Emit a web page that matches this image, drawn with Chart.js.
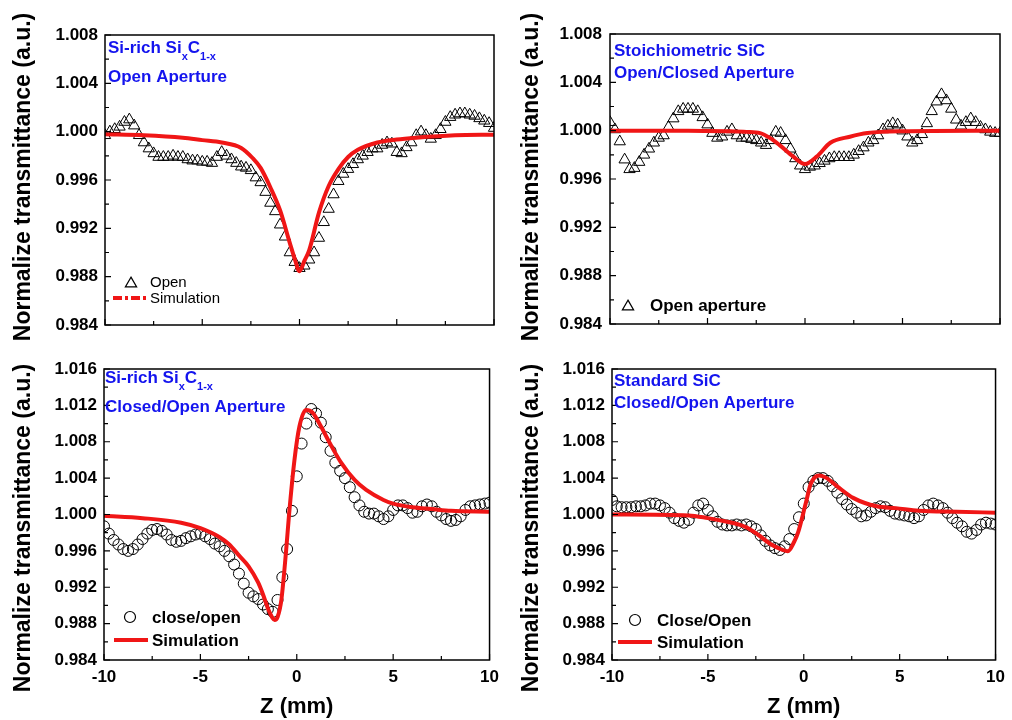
<!DOCTYPE html>
<html>
<head>
<meta charset="utf-8">
<title>Z-scan normalized transmittance</title>
<script src="https://cdn.jsdelivr.net/npm/chart.js@4.4.1/dist/chart.umd.min.js"></script>
<style>
  body { margin: 0; background: #fff; width: 1012px; height: 720px; overflow: hidden; }
  canvas { position: absolute; }
</style>
</head>
<body>
<canvas id="c1" style="left:0;top:0" width="506" height="350"></canvas>
<canvas id="c2" style="left:506px;top:0" width="506" height="350"></canvas>
<canvas id="c3" style="left:0;top:335px" width="506" height="385"></canvas>
<canvas id="c4" style="left:506px;top:335px" width="506" height="385"></canvas>
<script>
// axis ticks
const zTicks = [-10, -5, 0, 5, 10];
const yTicksTop = [0.984, 0.988, 0.992, 0.996, 1.000, 1.004, 1.008];
const yTicksBottom = [0.984, 0.988, 0.992, 0.996, 1.000, 1.004, 1.008, 1.012, 1.016];

// measured sample positions (mm)
const zGrid = [-10, -9.75, -9.5, -9.25, -9, -8.75, -8.5, -8.25, -8, -7.75, -7.5, -7.25, -7, -6.75, -6.5, -6.25,
  -6, -5.75, -5.5, -5.25, -5, -4.75, -4.5, -4.25, -4, -3.75, -3.5, -3.25, -3, -2.75, -2.5, -2.25,
  -2, -1.75, -1.5, -1.25, -1, -0.75, -0.5, -0.25, 0, 0.25, 0.5, 0.75, 1, 1.25, 1.5, 1.75,
  2, 2.25, 2.5, 2.75, 3, 3.25, 3.5, 3.75, 4, 4.25, 4.5, 4.75, 5, 5.25, 5.5, 5.75,
  6, 6.25, 6.5, 6.75, 7, 7.25, 7.5, 7.75, 8, 8.25, 8.5, 8.75, 9, 9.25, 9.5, 9.75, 10];

// Si-rich SixC1-x, open aperture
const openSiRich = [0.9997, 1.0000, 1.0002, 1.0004, 1.0008, 1.0010, 1.0005, 0.9997, 0.9991, 0.9986, 0.9982, 0.9979, 0.9979, 0.9979, 0.9980, 0.9979,
  0.9979, 0.9977, 0.9976, 0.9976, 0.9975, 0.9975, 0.9974, 0.9979, 0.9983, 0.9980, 0.9977, 0.9974, 0.9971, 0.9970, 0.9968, 0.9962,
  0.9958, 0.9950, 0.9941, 0.9934, 0.9923, 0.9913, 0.9900, 0.9892, 0.9887, 0.9889, 0.9894, 0.9900, 0.9912, 0.9925, 0.9936, 0.9948,
  0.9959, 0.9965, 0.9969, 0.9973, 0.9977, 0.9980, 0.9983, 0.9986, 0.9986, 0.9989, 0.9991, 0.9990, 0.9983, 0.9982, 0.9987, 0.9991,
  0.9997, 1.0000, 0.9997, 0.9994, 0.9997, 1.0002, 1.0008, 1.0012, 1.0014, 1.0015, 1.0015, 1.0014, 1.0013, 1.0011, 1.0009, 1.0007, 1.0003];
const simOpenSiRichZ = [-10, -8, -6, -5, -4, -3, -2.4, -2, -1.5, -1, -0.5, -0.25, 0, 0.25, 0.5, 1, 1.5, 2, 2.5, 3, 4, 5, 6, 8, 10];
const simOpenSiRich = [0.99978, 0.9997, 0.9995, 0.9993, 0.9991, 0.99865, 0.9978, 0.9970, 0.9954, 0.9935, 0.9908, 0.9895, 0.98845,
  0.9893, 0.9902, 0.9933, 0.9955, 0.9969, 0.9979, 0.9985, 0.9991, 0.99935, 0.9995, 0.9997, 0.99975];

// Stoichiometric SiC, open aperture
const openStoich = [1.0007, 1.0001, 0.9991, 0.9976, 0.9968, 0.9969, 0.9974, 0.9980, 0.9985, 0.9990, 0.9994, 0.9996, 1.0003, 1.0010, 1.0016, 1.0018,
  1.0018, 1.0018, 1.0016, 1.0011, 1.0005, 0.9998, 0.9994, 0.9995, 0.9999, 1.0001, 0.9996, 0.9994, 0.9994, 0.9993, 0.9992, 0.9990,
  0.9988, 0.9992, 0.9999, 0.9998, 0.9992, 0.9985, 0.9977, 0.9971, 0.9968, 0.9970, 0.9971, 0.9973, 0.9975, 0.9977, 0.9978, 0.9978,
  0.9978, 0.9978, 0.9980, 0.9983, 0.9986, 0.9990, 0.9992, 0.9996, 1.0001, 1.0004, 1.0006, 1.0005, 1.0000, 0.9995, 0.9990, 0.9992,
  0.9997, 1.0006, 1.0016, 1.0024, 1.0030, 1.0025, 1.0018, 1.0009, 1.0004, 1.0007, 1.0010, 1.0007, 1.0003, 1.0001, 0.9999, 0.9998, 0.9998];
const simOpenStoichZ = [-10, -6, -4, -3, -2.3, -1.8, -1.3, -0.6, 0, 0.6, 1.3, 2.3, 3.2, 5, 10];
const simOpenStoich = [1.0000, 1.0000, 0.99995, 0.9999, 0.9998, 0.9994, 0.9988, 0.99785, 0.99724, 0.99785, 0.9990, 0.9995, 0.9998, 0.99995, 1.0000];

// Si-rich SixC1-x, closed/open aperture
const closeSiRich = [0.9987, 0.9979, 0.9972, 0.9967, 0.9962, 0.9960, 0.9962, 0.9967, 0.9973, 0.9979, 0.9983, 0.9984, 0.9982, 0.9978, 0.9972, 0.9970,
  0.9971, 0.9974, 0.9976, 0.9978, 0.9979, 0.9976, 0.9973, 0.9968, 0.9965, 0.9960, 0.9954, 0.9945, 0.9935, 0.9924, 0.9914, 0.9910,
  0.9907, 0.9901, 0.9896, 0.9893, 0.9906, 0.9931, 0.9962, 1.0004, 1.0042, 1.0078, 1.0100, 1.0116, 1.0111, 1.0101, 1.0085, 1.0070,
  1.0057, 1.0048, 1.0040, 1.0030, 1.0019, 1.0010, 1.0003, 1.0001, 1.0001, 0.9998, 0.9995, 0.9998, 1.0005, 1.0010, 1.0010, 1.0007,
  1.0002, 1.0003, 1.0009, 1.0011, 1.0009, 1.0003, 0.9999, 0.9995, 0.9993, 0.9994, 0.9998, 1.0005, 1.0009, 1.0010, 1.0011, 1.0012, 1.0013];
const simCloseSiRichZ = [-10, -8, -6, -5, -4, -3.5, -3, -2.5, -2, -1.75, -1.5, -1.25, -1.15, -1, -0.8, -0.55, -0.4, -0.12,
  0.14, 0.48, 0.82, 1.25, 1.7, 2.3, 3, 3.6, 4.5, 5, 6, 7, 8, 10];
const simCloseSiRich = [0.99985, 0.9996, 0.9991, 0.9985, 0.9975, 0.9967, 0.9955, 0.9943, 0.9925, 0.9912, 0.9897, 0.9886, 0.9884, 0.9887,
  0.9906, 0.9961, 1.0000, 1.0060, 1.0097, 1.0115, 1.0112, 1.0097, 1.0079, 1.0057, 1.0038, 1.0027, 1.0016, 1.0012, 1.0008, 1.0006, 1.0004, 1.0003];

// Standard SiC, closed/open aperture
const closeStd = [1.0016, 1.0009, 1.0008, 1.0008, 1.0008, 1.0009, 1.0009, 1.0010, 1.0012, 1.0012, 1.0010, 1.0007, 1.0002, 0.9996, 0.9993, 0.9991,
  0.9994, 1.0002, 1.0010, 1.0012, 1.0005, 0.9998, 0.9992, 0.9989, 0.9988, 0.9988, 0.9989, 0.9988, 0.9989, 0.9987, 0.9984, 0.9977,
  0.9971, 0.9966, 0.9963, 0.9961, 0.9965, 0.9973, 0.9984, 0.9997, 1.0012, 1.0030, 1.0037, 1.0040, 1.0040, 1.0037, 1.0031, 1.0024,
  1.0017, 1.0011, 1.0006, 1.0002, 0.9998, 0.9999, 1.0003, 1.0007, 1.0009, 1.0008, 1.0004, 1.0001, 1.0000, 0.9999, 0.9998, 0.9996,
  0.9998, 1.0005, 1.0010, 1.0012, 1.0010, 1.0007, 1.0002, 0.9996, 0.9991, 0.9987, 0.9981, 0.9979, 0.9983, 0.9989, 0.9991, 0.9990, 0.9989];
const simCloseStdZ = [-10, -6, -5, -4, -3.4, -3, -2.4, -1.7, -1.2, -0.83, -0.5, -0.3, 0.1, 0.37, 0.8, 1.2, 1.74, 2.6, 3.8, 4.8, 6, 8, 10];
const simCloseStd = [1.0000, 0.9999, 0.9996, 0.9992, 0.9989, 0.9986, 0.9978, 0.9967, 0.9962, 0.99595, 0.9970, 0.9980, 1.0012, 1.0034,
  1.0043, 1.0040, 1.0031, 1.0018, 1.0009, 1.0007, 1.0004, 1.0003, 1.0002];

const RED = 'rgb(240,22,22)';
const BLUE = '#1414ee';
const FONT = "'Liberation Sans', Arial, Helvetica, sans-serif";
const Y_TITLE = 'Normalize transmittance (a.u.)';
Chart.defaults.font.family = FONT;
Chart.defaults.color = '#000';

function toXY(xs, ys) {
  return xs.map((x, i) => ({ x: x, y: ys[i] }));
}

// frame with inward major/minor ticks on the left and bottom axes
const framePlugin = {
  id: 'frame',
  afterDatasetsDraw(chart) {
    const ctx = chart.ctx;
    const { left, right, top, bottom } = chart.chartArea;
    const xs = chart.scales.x, ys = chart.scales.y;
    ctx.save();
    ctx.strokeStyle = '#000';
    ctx.lineWidth = 1.5;
    ctx.strokeRect(left, top, right - left, bottom - top);
    ctx.lineWidth = 1.2;
    ctx.beginPath();
    xs.ticks.forEach((t, i) => {
      const px = xs.getPixelForValue(t.value);
      ctx.moveTo(px, bottom); ctx.lineTo(px, bottom - 6);
      if (i < xs.ticks.length - 1) {
        const m = xs.getPixelForValue((t.value + xs.ticks[i + 1].value) / 2);
        ctx.moveTo(m, bottom); ctx.lineTo(m, bottom - 4);
      }
    });
    ys.ticks.forEach((t, i) => {
      const py = ys.getPixelForValue(t.value);
      ctx.moveTo(left, py); ctx.lineTo(left + 6, py);
      if (i < ys.ticks.length - 1) {
        const m = ys.getPixelForValue((t.value + ys.ticks[i + 1].value) / 2);
        ctx.moveTo(left, m); ctx.lineTo(left + 4, m);
      }
    });
    ctx.stroke();
    ctx.restore();
  }
};

// y title, blue sample labels and the inset legend
const insetPlugin = {
  id: 'inset',
  afterDraw(chart, args, opts) {
    const ctx = chart.ctx;
    const { left, top } = chart.chartArea;
    ctx.save();

    ctx.save();
    ctx.translate(opts.yTitleX, opts.yTitleY);
    ctx.rotate(-Math.PI / 2);
    ctx.fillStyle = '#000';
    ctx.font = 'bold 23px ' + FONT;
    ctx.textAlign = 'center';
    ctx.textBaseline = 'middle';
    ctx.fillText(Y_TITLE, 0, 0);
    ctx.restore();

    ctx.fillStyle = BLUE;
    ctx.textBaseline = 'alphabetic';
    (opts.title || []).forEach(line => {
      let x = left + opts.titleX;
      const y = top + line.y;
      line.parts.forEach(p => {
        const sub = p[1] === 'sub';
        ctx.font = sub ? 'bold 11px ' + FONT : 'bold 17px ' + FONT;
        ctx.fillText(p[0], x, sub ? y + 7 : y);
        x += ctx.measureText(p[0]).width;
      });
    });

    ctx.textBaseline = 'middle';
    (opts.legend || []).forEach(item => {
      const ds = chart.data.datasets[item.ds];
      const y = top + item.y;
      if (item.kind === 'marker') {
        const cx = left + item.x, r = ds.pointRadius;
        ctx.strokeStyle = '#000';
        ctx.lineWidth = 1.2;
        ctx.beginPath();
        if (ds.pointStyle === 'triangle') {
          for (let k = 0; k < 3; k++) {
            const a = k * 2 * Math.PI / 3;
            const px = cx + Math.sin(a) * r, py = y - Math.cos(a) * r + r * 0.25;
            if (k === 0) ctx.moveTo(px, py); else ctx.lineTo(px, py);
          }
          ctx.closePath();
        } else {
          ctx.arc(cx, y, r, 0, Math.PI * 2);
        }
        ctx.stroke();
      } else {
        ctx.strokeStyle = ds.borderColor;
        ctx.lineWidth = 4;
        ctx.setLineDash(item.dash || []);
        ctx.beginPath();
        ctx.moveTo(left + item.x1, y);
        ctx.lineTo(left + item.x2, y);
        ctx.stroke();
        ctx.setLineDash([]);
      }
      ctx.fillStyle = '#000';
      ctx.font = opts.legendFont;
      ctx.fillText(ds.label, left + item.tx, y + 1);
    });
    ctx.restore();
  }
};

function makePanel(id, p) {
  const datasets = [
    {
      label: p.dataLabel,
      data: toXY(zGrid, p.data),
      pointStyle: p.marker,
      pointRadius: p.marker === 'triangle' ? 6.5 : 5.5,
      pointBorderColor: '#000',
      pointBackgroundColor: 'rgba(0,0,0,0)',
      pointBorderWidth: 1,
      showLine: false,
      order: 2
    },
    {
      label: 'Simulation',
      data: toXY(p.simZ, p.simT),
      showLine: true,
      pointRadius: 0,
      borderColor: RED,
      borderWidth: 4,
      cubicInterpolationMode: 'monotone',
      fill: false,
      order: 1
    }
  ];
  return new Chart(document.getElementById(id), {
    type: 'scatter',
    data: { datasets: datasets },
    options: {
      responsive: false,
      animation: false,
      events: [],
      layout: { padding: { left: 0, top: p.padTop, right: p.padRight, bottom: 0 } },
      plugins: {
        legend: { display: false },
        tooltip: { enabled: false },
        inset: p.inset
      },
      scales: {
        x: {
          type: 'linear',
          min: -10, max: 10,
          afterBuildTicks: s => { s.ticks = zTicks.map(v => ({ value: v })); },
          afterFit: s => { s.height = p.xHeight; },
          grid: { display: false, drawTicks: false },
          border: { display: false },
          ticks: { display: p.showX, padding: 7, font: { size: 17, weight: 'bold' }, callback: v => String(v) },
          title: { display: p.showX, text: 'Z (mm)', font: { size: 22, weight: 'bold' }, padding: { top: 0, bottom: 0 } }
        },
        y: {
          type: 'linear',
          min: p.yTicks[0], max: p.yTicks[p.yTicks.length - 1],
          afterBuildTicks: s => { s.ticks = p.yTicks.map(v => ({ value: v })); },
          afterFit: s => { s.width = p.yWidth; },
          grid: { display: false, drawTicks: false },
          border: { display: false },
          ticks: { padding: p.yPad, font: { size: 17, weight: 'bold' }, callback: v => Number(v).toFixed(3) },
          title: { display: false, text: Y_TITLE }
        }
      }
    },
    plugins: [framePlugin, insetPlugin]
  });
}

makePanel('c1', {
  dataLabel: 'Open', data: openSiRich, marker: 'triangle',
  simZ: simOpenSiRichZ, simT: simOpenSiRich, yTicks: yTicksTop,
  padTop: 35, padRight: 12, xHeight: 25, yWidth: 105, yPad: 7, showX: false,
  inset: {
    yTitleX: 24, yTitleY: 177,
    titleX: 3,
    title: [
      { y: 18, parts: [['Si-rich Si'], ['x', 'sub'], ['C'], ['1-x', 'sub']] },
      { y: 47, parts: [['Open Aperture']] }
    ],
    legendFont: '15px ' + FONT,
    legend: [
      { ds: 0, kind: 'marker', x: 26, y: 247, tx: 45 },
      { ds: 1, kind: 'line', x1: 8, x2: 43, y: 263, tx: 45, dash: [9, 3, 3, 3] }
    ]
  }
});

makePanel('c2', {
  dataLabel: 'Open aperture', data: openStoich, marker: 'triangle',
  simZ: simOpenStoichZ, simT: simOpenStoich, yTicks: yTicksTop,
  padTop: 34, padRight: 12, xHeight: 26, yWidth: 104, yPad: 8, showX: false,
  inset: {
    yTitleX: 26, yTitleY: 177,
    titleX: 4,
    title: [
      { y: 22, parts: [['Stoichiometric SiC']] },
      { y: 44, parts: [['Open/Closed Aperture']] }
    ],
    legendFont: 'bold 17px ' + FONT,
    legend: [
      { ds: 0, kind: 'marker', x: 18, y: 271, tx: 40 }
    ]
  }
});

makePanel('c3', {
  dataLabel: 'close/open', data: closeSiRich, marker: 'circle',
  simZ: simCloseSiRichZ, simT: simCloseSiRich, yTicks: yTicksBottom,
  padTop: 34, padRight: 12, xHeight: 60, yWidth: 104, yPad: 7, showX: true,
  inset: {
    yTitleX: 24, yTitleY: 193,
    titleX: 1,
    title: [
      { y: 14, parts: [['Si-rich Si'], ['x', 'sub'], ['C'], ['1-x', 'sub']] },
      { y: 43, parts: [['Closed/Open Aperture']] }
    ],
    legendFont: 'bold 17px ' + FONT,
    legend: [
      { ds: 0, kind: 'marker', x: 26, y: 248, tx: 48 },
      { ds: 1, kind: 'line', x1: 10, x2: 44, y: 271, tx: 48 }
    ]
  }
});

makePanel('c4', {
  dataLabel: 'Close/Open', data: closeStd, marker: 'circle',
  simZ: simCloseStdZ, simT: simCloseStd, yTicks: yTicksBottom,
  padTop: 34, padRight: 11, xHeight: 60, yWidth: 106, yPad: 7, showX: true,
  inset: {
    yTitleX: 26, yTitleY: 193,
    titleX: 2,
    title: [
      { y: 17, parts: [['Standard SiC']] },
      { y: 39, parts: [['Closed/Open Aperture']] }
    ],
    legendFont: 'bold 17px ' + FONT,
    legend: [
      { ds: 0, kind: 'marker', x: 23, y: 251, tx: 45 },
      { ds: 1, kind: 'line', x1: 6, x2: 40, y: 273, tx: 45 }
    ]
  }
});
</script>
</body>
</html>
